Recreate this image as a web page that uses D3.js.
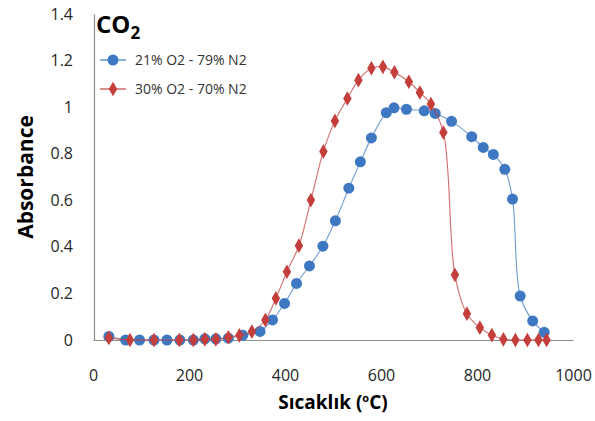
<!DOCTYPE html>
<html>
<head>
<meta charset="utf-8">
<script src="https://cdn.jsdelivr.net/npm/d3@7"></script>
<style>
  body { margin: 0; background: #fff; }
  svg text { font-family: "Open Sans", sans-serif; }
</style>
</head>
<body>
<div id="chart"></div>
<script>
// data
const seriesNames = ["21% O2 - 79% N2", "30% O2 - 70% N2"];

const tempAir = [33, 68, 97, 127, 154, 181, 209, 233, 256, 282, 312, 348, 374, 399, 424, 451,
  479, 505, 533, 557, 580, 611, 627, 653, 690, 713, 747, 789, 813, 834, 858, 874, 890, 916, 940];
const absAir = [0.015, 0, 0, 0, 0, 0, 0, 0.005, 0.005, 0.008, 0.02, 0.037, 0.086, 0.157, 0.243, 0.318,
  0.403, 0.512, 0.652, 0.765, 0.868, 0.976, 0.997, 0.991, 0.984, 0.973, 0.939, 0.873, 0.827, 0.797, 0.733, 0.605, 0.189, 0.082, 0.033];

const tempRich = [33, 77, 127, 180, 209, 233, 256, 282, 305, 331, 359, 381, 404, 429, 454, 480,
  504, 530, 553, 580, 604, 628, 658, 681, 704, 730, 754, 779, 806, 831, 855, 880, 905, 928, 945];
const absRich = [0.009, 0, 0, 0, 0, 0.003, 0.003, 0.012, 0.02, 0.036, 0.086, 0.179, 0.293, 0.405, 0.601, 0.81,
  0.941, 1.037, 1.116, 1.167, 1.173, 1.15, 1.109, 1.063, 1.013, 0.891, 0.28, 0.113, 0.053, 0.021, 0.003, 0, 0, 0, 0];

const xTicks = [0, 200, 400, 600, 800, 1000];
const yTicks = [0, 0.2, 0.4, 0.6, 0.8, 1, 1.2, 1.4];

// layout
const W = 595, H = 421;
const margin = { left: 94, right: 22, top: 14, bottom: 81 };

const svg = d3.select("#chart").append("svg")
  .attr("width", W)
  .attr("height", H);

const x = d3.scaleLinear().domain([0, 1000]).range([margin.left - 1, W - margin.right]);
const y = d3.scaleLinear().domain([0, 1.4]).range([H - margin.bottom, margin.top]);

// axes
const gx = svg.append("g")
  .attr("transform", "translate(0," + (H - margin.bottom) + ")")
  .call(d3.axisBottom(x).tickValues(xTicks).tickSize(0).tickPadding(30).tickFormat(d3.format("d")));
const gy = svg.append("g")
  .attr("transform", "translate(" + margin.left + ",0)")
  .call(d3.axisLeft(y).tickValues(yTicks).tickSize(0).tickPadding(21).tickFormat(d => d3.format("")(d)));

[gx, gy].forEach(g => {
  g.select(".domain").attr("stroke", "#8c8c8c").attr("stroke-width", 1.2);
  g.selectAll("text").style("font-size", "16px").attr("fill", "#262626");
});

// axis titles
const xt = svg.append("text")
  .attr("x", 333).attr("y", 409)
  .attr("text-anchor", "middle")
  .style("font-size", "19px").style("font-weight", "bold");
xt.append("tspan").text("Sıcaklık (");
xt.append("tspan").attr("baseline-shift", "super").style("font-size", "11px").text("o");
xt.append("tspan").text("C)");

svg.append("text")
  .attr("transform", "translate(33,177) rotate(-90)")
  .attr("text-anchor", "middle")
  .style("font-size", "21px").style("font-weight", "bold")
  .text("Absorbance");

// chart title
const title = svg.append("text")
  .attr("x", 96).attr("y", 33)
  .style("font-size", "24px").style("font-weight", "bold");
title.append("tspan").text("CO");
title.append("tspan").attr("dy", 6).style("font-size", "17px").text("2");

// series
const series = [
  { name: seriesNames[0], xs: tempAir, ys: absAir, color: "#3f78c2", shape: d3.symbolCircle, size: 95 },
  { name: seriesNames[1], xs: tempRich, ys: absRich, color: "#c43e3b", shape: d3.symbolDiamond, size: 62 }
];

const line = d3.line()
  .x(d => x(d[0]))
  .y(d => y(d[1]))
  .curve(d3.curveCatmullRom.alpha(0.5));

series.forEach(s => {
  const pts = s.xs.map((v, i) => [v, s.ys[i]]);
  svg.append("path")
    .datum(pts)
    .attr("fill", "none")
    .attr("stroke", s.color)
    .attr("stroke-opacity", 0.75)
    .attr("stroke-width", 1.1)
    .attr("d", line);
  svg.append("g").selectAll("path")
    .data(pts)
    .enter()
    .append("path")
    .attr("transform", d => "translate(" + x(d[0]) + "," + y(d[1]) + ")")
    .attr("d", d3.symbol().type(s.shape).size(s.size))
    .attr("fill", s.color);
});

// legend
const legend = svg.append("g");
series.forEach((s, i) => {
  const ly = 60 + i * 29;
  legend.append("line")
    .attr("x1", 100).attr("x2", 126)
    .attr("y1", ly).attr("y2", ly)
    .attr("stroke", s.color).attr("stroke-width", 1.2);
  legend.append("path")
    .attr("transform", "translate(113," + ly + ")")
    .attr("d", d3.symbol().type(s.shape).size(s.size))
    .attr("fill", s.color);
  legend.append("text")
    .attr("x", 135).attr("y", ly + 5)
    .style("font-size", "14px")
    .attr("fill", "#333")
    .text(s.name);
});
</script>
</body>
</html>
